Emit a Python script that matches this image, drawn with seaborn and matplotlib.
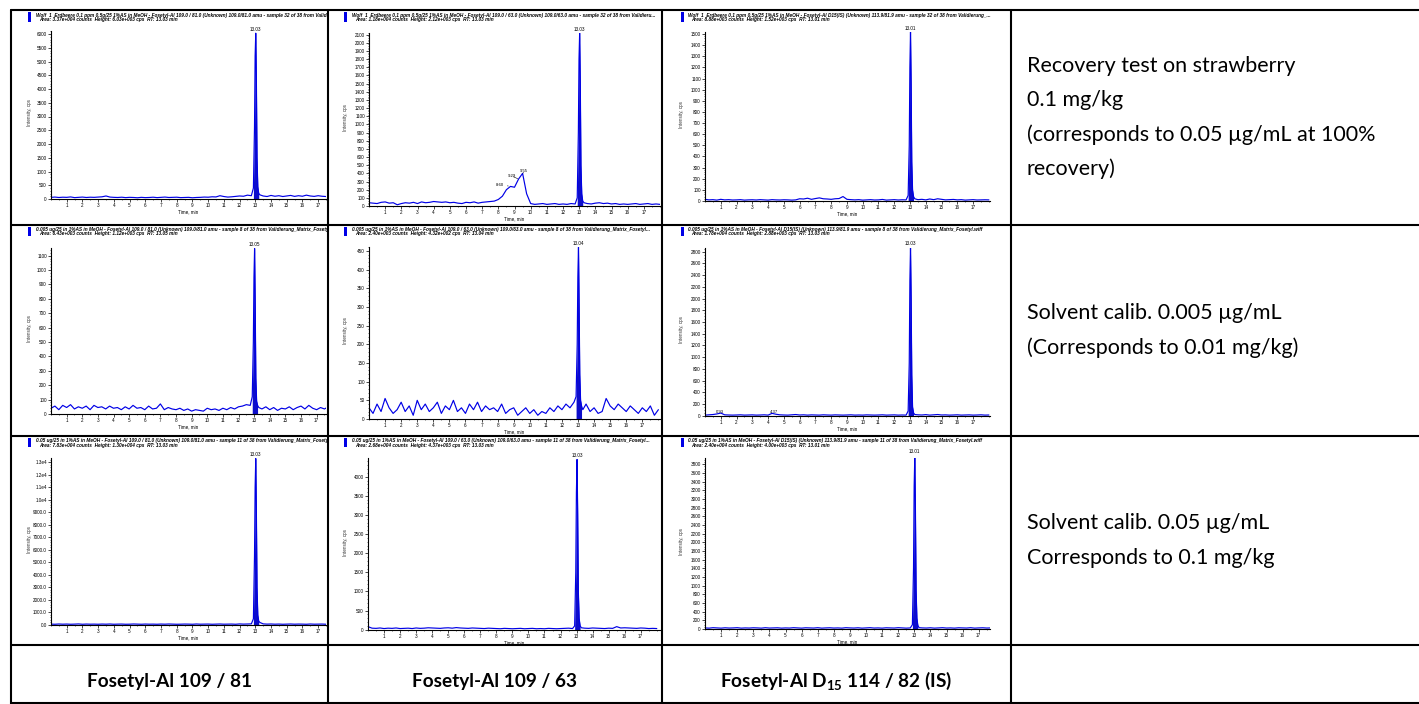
import numpy as np
import pandas as pd
import matplotlib
matplotlib.use("Agg")
import matplotlib.pyplot as plt
import seaborn as sns
from matplotlib.lines import Line2D
from matplotlib.patches import Rectangle
from matplotlib.ticker import MultipleLocator, FixedLocator, FuncFormatter

# retention time grid of the traces (min): baseline before peak, peak, after peak
t_pre = [0.0, 0.25, 0.5, 0.75, 1.0, 1.25, 1.5, 1.75, 2.0, 2.25, 2.5, 2.75, 3.0,
         3.25, 3.5, 3.75, 4.0, 4.25, 4.5, 4.75, 5.0, 5.25, 5.5, 5.75, 6.0, 6.25,
         6.5, 6.75, 7.0, 7.25, 7.5, 7.75, 8.0, 8.25, 8.5, 8.75, 9.0, 9.25, 9.5,
         9.75, 10.0, 10.25, 10.5, 10.75, 11.0, 11.25, 11.5, 11.75, 12.0, 12.25, 12.5, 12.75]
t_peak = [12.88, 12.95, 12.99, 13.03, 13.07, 13.11, 13.16, 13.22]
t_post = [13.3, 13.5, 13.75, 14.0, 14.25, 14.5, 14.75, 15.0, 15.25, 15.5,
          15.75, 16.0, 16.25, 16.5, 16.75, 17.0, 17.25, 17.5, 17.75, 18.0]

# intensities (cps), row / column of the table
cps_r1c1 = [60, 70, 55, 65, 60, 75, 50, 60, 70, 55, 65, 60, 70,
            80, 110, 70, 60, 55, 65, 50, 60, 55, 45, 60, 50, 55,
            65, 50, 60, 70, 55, 60, 65, 50, 55, 60, 45, 55, 60,
            70, 65, 80, 75, 120, 90, 70, 80, 95, 110, 100, 140, 120,
            400, 2600, 5200, 6030, 4300, 1500, 450, 200,
            150, 110, 90, 130, 100, 120, 90, 110, 130, 95, 120, 100, 140, 110, 95, 120, 100, 90, 110, 100]
cps_r1c2 = [40, 35, 30, 45, 50, 35, 40, 15, 30, 40, 35, 45, 30,
            50, 40, 45, 55, 50, 45, 50, 40, 45, 35, 30, 45, 40,
            50, 35, 45, 50, 55, 60, 80, 120, 200, 240, 230, 330, 400,
            150, 30, 20, 25, 30, 20, 25, 30, 20, 25, 20, 30, 25,
            100, 900, 1800, 2120, 1500, 500, 150, 60,
            40, 30, 25, 35, 40, 30, 35, 25, 30, 20, 25, 20, 25, 30, 20, 25, 30, 20, 25, 20]
cps_r1c3 = [15, 10, 12, 8, 15, 10, 12, 9, 10, 12, 8, 10, 11,
            9, 12, 10, 8, 12, 10, 9, 11, 10, 8, 10, 20, 18,
            25, 15, 22, 28, 20, 18, 15, 20, 22, 40, 15, 12, 10,
            12, 8, 10, 12, 9, 10, 14, 8, 10, 12, 9, 11, 10,
            50, 500, 1200, 1518, 1050, 350, 100, 40,
            20, 12, 15, 10, 18, 12, 20, 15, 10, 12, 14, 10, 12, 8, 10, 12, 9, 10, 11, 10]
cps_r2c1 = [40, 55, 30, 60, 45, 65, 35, 50, 40, 55, 30, 60, 45,
            50, 35, 55, 40, 45, 30, 50, 35, 60, 40, 45, 30, 55,
            35, 40, 70, 30, 45, 35, 30, 40, 25, 35, 20, 30, 25,
            20, 40, 30, 35, 25, 40, 30, 45, 35, 50, 55, 65, 60,
            120, 500, 950, 1150, 750, 250, 90, 60,
            45, 35, 50, 30, 45, 25, 40, 35, 50, 30, 45, 55, 35, 60, 40, 30, 45, 35, 50, 40]
cps_r2c2 = [30, 15, 40, 20, 55, 30, 15, 25, 45, 20, 35, 10, 50,
            25, 40, 20, 30, 45, 15, 35, 25, 50, 20, 30, 15, 40,
            25, 45, 20, 35, 25, 30, 20, 40, 15, 25, 30, 10, 20,
            30, 15, 25, 10, 20, 15, 30, 20, 35, 25, 40, 30, 45,
            60, 200, 380, 460, 300, 120, 50, 35,
            25, 40, 20, 30, 15, 20, 55, 35, 25, 40, 30, 20, 35, 25, 15, 30, 20, 35, 10, 25]
cps_r2c3 = [10, 15, 20, 30, 45, 15, 12, 10, 12, 15, 10, 12, 14,
            10, 12, 15, 10, 40, 25, 15, 12, 10, 15, 20, 12, 15,
            10, 14, 12, 10, 15, 12, 10, 14, 12, 10, 12, 15, 10,
            12, 10, 14, 12, 10, 12, 15, 10, 12, 14, 10, 12, 10,
            80, 900, 2300, 2870, 2000, 700, 150, 50,
            20, 15, 12, 18, 10, 15, 20, 12, 14, 10, 12, 15, 10, 12, 14, 10, 12, 15, 10, 12]
cps_r3c1 = [70, 60, 80, 65, 75, 60, 70, 85, 60, 75, 65, 70, 60,
            75, 65, 80, 60, 70, 75, 60, 65, 80, 70, 60, 75, 65,
            70, 60, 75, 65, 80, 70, 60, 65, 75, 70, 60, 80, 65,
            70, 75, 60, 70, 80, 65, 70, 75, 60, 85, 70, 80, 90,
            500, 5500, 11000, 13300, 9000, 3000, 800, 300,
            200, 90, 70, 80, 65, 75, 60, 70, 80, 65, 75, 70, 60, 80, 65, 70, 75, 60, 70, 65]
cps_r3c2 = [80, 40, 35, 45, 30, 40, 35, 45, 30, 35, 40, 30, 45,
            35, 40, 50, 45, 40, 35, 45, 50, 40, 55, 45, 40, 35,
            45, 40, 35, 30, 40, 35, 30, 25, 35, 30, 25, 30, 35,
            25, 30, 35, 25, 30, 25, 35, 30, 25, 30, 35, 40, 30,
            100, 1500, 3600, 4450, 3000, 1000, 300, 100,
            50, 40, 35, 45, 40, 35, 30, 40, 35, 80, 45, 50, 45, 40, 35, 45, 40, 30, 35, 30]
cps_r3c3 = [25, 20, 30, 25, 20, 28, 22, 25, 30, 20, 25, 22, 28,
            25, 20, 30, 22, 25, 28, 20, 25, 22, 30, 25, 20, 28,
            25, 22, 30, 20, 25, 28, 22, 25, 20, 30, 25, 22, 28,
            20, 25, 30, 22, 25, 20, 28, 25, 22, 30, 25, 20, 25,
            100, 1400, 3300, 4000, 2700, 900, 250, 80,
            30, 25, 22, 28, 20, 25, 30, 22, 25, 20, 28, 25, 22, 30, 20, 25, 28, 22, 25, 20]

peak_rt = ["13.03", "13.03", "13.01", "13.05", "13.04", "13.03", "13.03", "13.03", "13.01"]

headers = [
    ("Wolf  1  Erdbeere 0,1 ppm 0,5g/25 1%AS in MeOH - Fosetyl-Al 109.0 / 81.0 (Unknown) 109.0/81.0 amu - sample 32 of 38 from Validierung_Matrix",
     "Area: 3.37e+004 counts  Height: 6.03e+003 cps  RT: 13.03 min"),
    ("Wolf  1  Erdbeere 0,1 ppm 0,5g/25 1%AS in MeOH - Fosetyl-Al 109.0 / 63.0 (Unknown) 109.0/63.0 amu - sample 32 of 38 from Validieru...",
     "Area: 1.18e+004 counts  Height: 2.12e+003 cps  RT: 13.03 min"),
    ("Wolf  1  Erdbeere 0,1 ppm 0,5g/25 1%AS in MeOH - Fosetyl-Al D15(IS) (Unknown) 113.9/81.9 amu - sample 32 of 38 from Validierung_...",
     "Area: 8.88e+003 counts  Height: 1.52e+003 cps  RT: 13.01 min"),
    ("0.005 ug/25 in 1%AS in MeOH - Fosetyl-Al 109.0 / 81.0 (Unknown) 109.0/81.0 amu - sample 8 of 38 from Validierung_Matrix_Fosetyl",
     "Area: 6.43e+003 counts  Height: 1.12e+003 cps  RT: 13.05 min"),
    ("0.005 ug/25 in 1%AS in MeOH - Fosetyl-Al 109.0 / 63.0 (Unknown) 109.0/63.0 amu - sample 8 of 38 from Validierung_Matrix_Fosetyl...",
     "Area: 2.40e+003 counts  Height: 4.32e+002 cps  RT: 13.04 min"),
    ("0.005 ug/25 in 1%AS in MeOH - Fosetyl-Al D15(IS) (Unknown) 113.9/81.9 amu - sample 8 of 38 from Validierung_Matrix_Fosetyl.wiff",
     "Area: 1.78e+004 counts  Height: 2.88e+003 cps  RT: 13.03 min"),
    ("0.05 ug/25 in 1%AS in MeOH - Fosetyl-Al 109.0 / 81.0 (Unknown) 109.0/81.0 amu - sample 11 of 38 from Validierung_Matrix_Fosetyl",
     "Area: 7.83e+004 counts  Height: 1.30e+004 cps  RT: 13.03 min"),
    ("0.05 ug/25 in 1%AS in MeOH - Fosetyl-Al 109.0 / 63.0 (Unknown) 109.0/63.0 amu - sample 11 of 38 from Validierung_Matrix_Fosetyl...",
     "Area: 2.68e+004 counts  Height: 4.37e+003 cps  RT: 13.03 min"),
    ("0.05 ug/25 in 1%AS in MeOH - Fosetyl-Al D15(IS) (Unknown) 113.9/81.9 amu - sample 11 of 38 from Validierung_Matrix_Fosetyl.wiff",
     "Area: 2.40e+004 counts  Height: 4.00e+003 cps  RT: 13.01 min"),
]

row_labels = [
    ["Recovery test on strawberry", "0.1 mg/kg", "(corresponds to 0.05 µg/mL at 100%", "recovery)"],
    ["Solvent calib. 0.005 µg/mL", "(Corresponds to 0.01 mg/kg)"],
    ["Solvent calib. 0.05 µg/mL", "Corresponds to 0.1 mg/kg"],
]
col_labels = ["Fosetyl-Al 109 / 81", "Fosetyl-Al 109 / 63", "Fosetyl-Al D$_{15}$ 114 / 82 (IS)"]
time_ticks = [1, 2, 3, 4, 5, 6, 7, 8, 9, 10, 11, 12, 13, 14, 15, 16, 17]

traces = [cps_r1c1, cps_r1c2, cps_r1c3, cps_r2c1, cps_r2c2, cps_r2c3, cps_r3c1, cps_r3c2, cps_r3c3]
times = t_pre + t_peak + t_post

# ---- layout (pixels of the 1419x704 page) ----
W, H = 1419, 704
col_x = [11, 328, 662, 1011]
row_y = [10, 225, 436, 645, 703]
# left, right, xmax, y0, top, yref, yref_px, ystep, yminor
geo = [
    (51, 326, 17.5, 199, 31, 6000, 34, 500, 100),
    (369, 660, 18.0, 206, 33, 2100, 34.7, 100, 20),
    (705, 990, 18.07, 201, 32, 1500, 34, 100, 20),
    (51, 326, 17.6, 414, 247.5, 1100, 255.7, 100, 20),
    (369, 660, 18.1, 419, 247, 450, 251, 50, 10),
    (705, 990, 18.07, 415.7, 247.7, 2800, 251.7, 200, 50),
    (51, 326, 17.5, 625, 458.3, 13000, 462.3, 1000, 200),
    (368, 660, 18.2, 629.7, 458.3, 4000, 476.7, 500, 100),
    (705, 990, 17.7, 629, 458.3, 3800, 464.3, 200, 50),
]
rect_x = [28, 344, 681]
head_x = [36, 352, 688]
head_y = [15, 229.5, 440.5]
ylab_x = [29, 345, 681]

BLUE = "#0000e6"

sns.set_theme(style="white")
plt.rcParams["font.family"] = ["Liberation Sans", "DejaVu Sans"]
plt.rcParams["mathtext.default"] = "regular"
plt.rcParams["text.color"] = "black"
plt.rcParams["axes.labelcolor"] = "black"
plt.rcParams["xtick.color"] = "black"
plt.rcParams["ytick.color"] = "black"

fig = plt.figure(figsize=(W / 100, H / 100), dpi=100)


def box(l, t, r, b):
    return [l / W, 1 - b / H, (r - l) / W, (b - t) / H]


def fx(x):
    return x / W


def fy(y):
    return 1 - y / H


def r3c1_fmt(v, pos):
    if v >= 10000:
        return "%.1fe4" % (v / 10000)
    return "%.1f" % v


for i, vals in enumerate(traces):
    r, c = divmod(i, 3)
    left, right, xmax, y0, top, yref, yref_px, ystep, yminor = geo[i]

    # cell holder for the header text (clipped at the cell border)
    cell = fig.add_axes(box(col_x[c], row_y[r], col_x[c + 1], row_y[r + 1]))
    cell.axis("off")
    h1, h2 = headers[i]
    cell.text(fx(head_x[c]), fy(head_y[r]), h1, transform=fig.transFigure, fontsize=3.4,
              fontweight="bold", style="italic", va="center", ha="left", clip_on=True)
    cell.text(fx(head_x[c] + 3), fy(head_y[r] + 4.5), h2, transform=fig.transFigure, fontsize=3.4,
              fontweight="bold", style="italic", va="center", ha="left", clip_on=True)
    cell.add_patch(Rectangle((fx(rect_x[c]), fy(head_y[r] + 6.5)), 3 / W, 9 / H,
                             transform=fig.transFigure, color=BLUE, lw=0))
    cell.text(fx(ylab_x[c]), fy((top + y0) / 2 - 2), "Intensity, cps", transform=fig.transFigure,
              fontsize=3.3, rotation=90, va="center", ha="center", color="#333333")

    ax = fig.add_axes(box(left, top, right, y0))
    ytop = yref * (y0 - top) / (y0 - yref_px)
    df = pd.DataFrame({"time": times, "cps": vals})
    sns.lineplot(data=df, x="time", y="cps", ax=ax, color=BLUE, linewidth=0.85,
                 estimator=None, sort=False)
    ax.fill_between(t_peak, vals[len(t_pre):len(t_pre) + len(t_peak)], color="#0000c8", alpha=0.95, lw=0)
    ax.set_xlim(0, xmax)
    ax.set_ylim(0, ytop)
    ax.set_xlabel("Time, min", fontsize=3.3, labelpad=1)
    ax.set_ylabel("")
    ax.xaxis.set_major_locator(FixedLocator(time_ticks))
    ax.xaxis.set_minor_locator(MultipleLocator(0.5))
    ax.yaxis.set_major_locator(MultipleLocator(ystep))
    ax.yaxis.set_minor_locator(MultipleLocator(yminor))
    if i == 6:
        ax.yaxis.set_major_formatter(FuncFormatter(r3c1_fmt))
    ax.tick_params(which="major", labelsize=3.3, length=2, width=0.5, pad=1, direction="out",
                   left=True, bottom=True)
    ax.tick_params(which="minor", length=1, width=0.4, left=True, bottom=True)
    sns.despine(ax=ax)
    for s in ("left", "bottom"):
        ax.spines[s].set_linewidth(0.8)
        ax.spines[s].set_color("black")
    ax.patch.set_alpha(0)

    apex = max(vals)
    ax.annotate(peak_rt[i], xy=(13.03, apex), xytext=(0, 1), textcoords="offset points",
                fontsize=3.3, ha="center", va="bottom", annotation_clip=False)

    if i == 1:
        for lab, pt, txt in [("8.60", (8.62, 245), (8.1, 262)),
                             ("9.29", (9.2, 335), (8.85, 365)),
                             ("9.55", (9.52, 400), (9.58, 430))]:
            ax.annotate(lab, xy=pt, xytext=txt, fontsize=3.1, ha="center", va="center",
                        arrowprops=dict(arrowstyle="-", lw=0.4, color="black",
                                        shrinkA=1, shrinkB=0))
    if i == 5:
        ax.text(0.93, 25, "0.93", fontsize=3.1, ha="center", va="bottom")
        ax.text(4.37, 25, "4.37", fontsize=3.1, ha="center", va="bottom")

# right-hand description column
for r, lines in enumerate(row_labels):
    mid = (row_y[r] + row_y[r + 1]) / 2
    n = len(lines)
    for k, line in enumerate(lines):
        y = mid + (k - (n - 1) / 2) * 34.3
        fig.text(fx(1027), fy(y), line, fontsize=15.5, family=["Lato", "DejaVu Sans"],
                 ha="left", va="center", color="black")

# bottom row with the transition names
for c, lab in enumerate(col_labels):
    fig.text(fx((col_x[c] + col_x[c + 1]) / 2), fy(687), lab, fontsize=13.7, fontweight="bold",
             family=["Lato", "DejaVu Sans"], ha="center", va="baseline", color="black")

# table grid
for y in row_y:
    fig.add_artist(Line2D([fx(col_x[0]), 1], [fy(y), fy(y)], color="black", lw=1.5))
for x in col_x:
    fig.add_artist(Line2D([fx(x), fx(x)], [fy(row_y[0]), 0], color="black", lw=1.5))

fig.savefig("out.png", dpi=100, facecolor="white")
